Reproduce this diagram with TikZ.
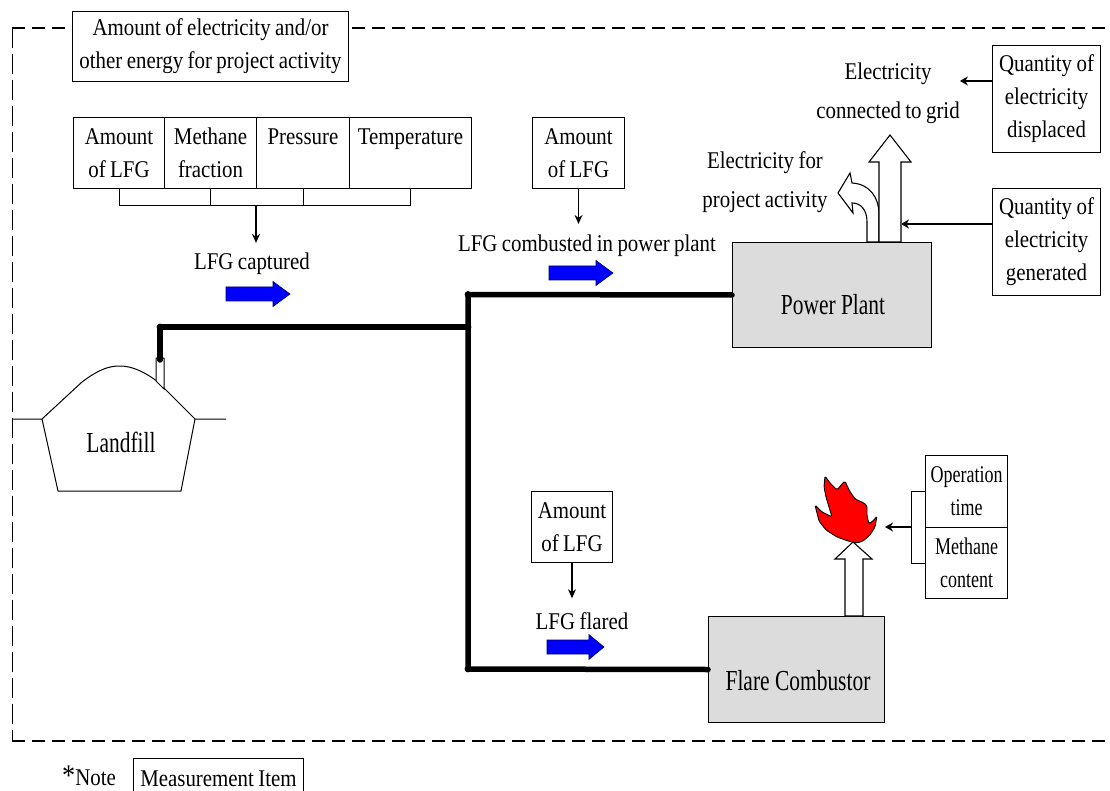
\documentclass[tikz,border=0pt]{standalone}
\usepackage{fontspec}
\setmainfont{Liberation Serif}[FakeStretch=0.87, WordSpace=0.85]
\newfontfamily\bigfam{Liberation Serif}[FakeStretch=0.74]
\newfontfamily\narfam{Liberation Serif}[FakeStretch=0.75]
\usetikzlibrary{arrows.meta}
\definecolor{boxgray}{HTML}{DCDCDC}
\definecolor{flamered}{HTML}{FF0000}
\begin{document}
\begin{tikzpicture}[x=1pt,y=-1pt,
  lbl/.style={font=\fontsize{24}{33}\selectfont, align=center, inner sep=0pt},
  tall/.style={font=\fontsize{24}{39}\selectfont, align=center, inner sep=0pt},
  big/.style={font=\bigfam\fontsize{29}{33}\selectfont, inner sep=0pt},
  mbox/.style={draw, line width=1pt, fill=white, align=center, inner sep=0pt, font=\fontsize{24}{33}\selectfont, anchor=north west},
  unit/.style={draw, line width=1pt, fill=boxgray, inner sep=0pt, anchor=north west},
  pipe/.style={line width=5.5pt, line cap=round, line join=round},
  meas/.style={-{Stealth[length=9pt,width=8pt]}, line width=1.2pt},
  measb/.style={-{Stealth[length=8pt,width=9pt]}, line width=1.8pt},
  hollow/.style={draw, fill=white, line width=1.1pt, line join=miter},
  frameh/.style={line width=2.2pt, dash pattern=on 13pt off 7pt},
  framev/.style={line width=1pt, dash pattern=on 20pt off 6pt},
  blockarrow/.pic={\draw[fill=blue, line width=0.6pt, draw=black!60!blue] (0,-7) -- (47,-7) -- (47,-12.5) -- (64,0) -- (47,12.5) -- (47,7) -- (0,7) -- cycle;}
]
\useasboundingbox (0,0) rectangle (1110,791);

% project boundary
\draw[frameh] (12,28) -- (1110,28);
\draw[framev] (12,28) -- (12,741);
\draw[frameh] (12,741) -- (1110,741);

% top box
\node[mbox, minimum width=276pt, minimum height=70pt] (energy) at (72,11) {Amount of electricity and/or\\other energy for project activity};

% table of measurement items
\node[mbox, minimum width=91pt, minimum height=71pt] (c1) at (73,117) {Amount\\of LFG};
\node[mbox, minimum width=92pt, minimum height=71pt] (c2) at (164,117) {Methane\\fraction};
\node[mbox, minimum width=93pt, minimum height=71pt] (c3) at (256,117) {Pressure\\\mbox{}};
\node[mbox, minimum width=122pt, minimum height=71pt] (c4) at (349,117) {Temperature\\\mbox{}};
\coordinate (brk) at (256,206);
\draw[line width=1pt] (c1.south) |- (c4.south |- brk) -- (c4.south);
\draw[line width=1pt] (c2.south) -- (c2.south |- brk);
\draw[line width=1pt] (c3.south) -- (c3.south |- brk);

% labels
\node[lbl] (cap) at (252,264) {LFG captured};
\node[lbl] (comb) at (587,246) {LFG combusted in power plant};
\node[lbl] (flr) at (582,621) {LFG flared};
\node[tall] (grid) at (888,93) {Electricity\\connected to grid};
\node[tall] (own) at (765,182) {Electricity for\\project activity};

\draw[meas, shorten >=10pt] (brk) -- (cap.north -| brk);

% amount of LFG boxes
\node[mbox, minimum width=92pt, minimum height=71pt] (A1) at (532,117) {Amount\\of LFG};
\node[mbox, minimum width=81pt, minimum height=71pt] (A2) at (531,491) {Amount\\of LFG};
\draw[meas, shorten >=11pt] (A1.south) -- (A1.south |- comb.north);
\draw[meas, shorten >=14pt] (A2.south) -- (A2.south |- flr.north);

% blue flow arrows
\pic at (226,294) {blockarrow};
\pic at (549,273) {blockarrow};
\pic[xscale=0.89] at (547,647) {blockarrow};

% landfill
\draw[line width=1pt] (12,419) -- (42,419) -- (58,491) -- (181,491) -- (195,419) -- (226,419);
\draw[line width=1pt] (42,419) -- (82,382) .. controls (98,370) and (108,366) .. (120,366) .. controls (132,366) and (145,372) .. (158,382) -- (195,419);
\draw[line width=1pt, fill=white] (156,358) -- (164,358) -- (164,389) -- (156,381) -- cycle;
\node[big] (lf) at (121,442) {Landfill};

% power plant and flare
\node[unit, minimum width=199pt, minimum height=105pt] (PP) at (732,242) {};
\node[big] (PPl) at (833,305) {Power Plant};
\node[unit, minimum width=176pt, minimum height=106pt] (FC) at (708,616) {};
\node[big] (FCl) at (798,681) {Flare Combustor};

% pipes
\coordinate (lfTop) at (160,360);
\coordinate (lfBend) at (160,327);
\coordinate (j1) at (468,327);
\coordinate (jTop) at (468,294.5);
\coordinate (jBot) at (468,669);
\draw[pipe] (lfTop) -- (lfBend) -- (j1);
\draw[pipe] (jBot) -- (jTop) -- (PP.west);
\draw[pipe] (jBot) -- (FC.west);
\foreach \p in {lfBend,j1,jTop,jBot} \fill (\p) circle (3.4);

% electricity arrows
\draw[hollow] (867,242) -- (867,222) .. controls (867,210) and (861,203) .. (852,203) -- (853,213) -- (838,193) -- (850,173) -- (852,183) .. controls (870,184) and (879,198) .. (879,214) -- (879,242) -- cycle;
\draw[hollow] (879,242) -- (879,162) -- (869,162) -- (890,135) -- (911,162) -- (901,162) -- (901,242) -- cycle;
\coordinate (shaftR) at (901,224);

% right measurement boxes
\node[mbox, minimum width=108pt, minimum height=107pt] (QD) at (992,45) {Quantity of\\electricity\\displaced};
\node[mbox, minimum width=108pt, minimum height=107pt] (QG) at (992,188) {Quantity of\\electricity\\generated};
\coordinate (qdA) at (992,81);
\draw[measb] (QD.west |- qdA) -- (grid.east |- qdA);
\draw[measb] (QG.west |- shaftR) -- (shaftR);

% flare
\draw[hollow] (845,616) -- (845,559) -- (835,559) -- (853,542) -- (872,559) -- (863,559) -- (863,616) -- cycle;
\draw[fill=flamered, line width=0.9pt, rounded corners=1.5pt] (825,476) -- (830,483) -- (837,490) -- (842,484) -- (845,481) -- (849,490) -- (855,499) -- (864,503) -- (867,506) -- (867,516) -- (869,524) -- (874,520) -- (877,516) -- (875,527) -- (870,535) -- (863,541) -- (857,543) -- (848,541) -- (837,537) -- (826,530) -- (819,521) -- (815,505) -- (822,512) -- (832,517) -- (829,507) -- (826,497) -- (824,487) -- cycle;
\node[mbox, font=\narfam\fontsize{24}{33}\selectfont, minimum width=82pt, minimum height=72pt] (OT) at (925,455) {Operation\\time};
\node[mbox, font=\narfam\fontsize{24}{33}\selectfont, minimum width=82pt, minimum height=71pt] (MC) at (925,527) {Methane\\content};
\coordinate (flB) at (911,527);
\coordinate (flameR) at (885,527);
\draw[line width=1pt] (OT.west) -| (flB) |- (MC.west);
\draw[measb] (flB) -- (flameR);

% legend
\node[lbl, anchor=base west] (note) at (62,785) {{\fontsize{30}{30}\selectfont *}Note};
\node[mbox, minimum width=170pt, minimum height=40pt] (legend) at (133,758) {Measurement Item};
\end{tikzpicture}
\end{document}
